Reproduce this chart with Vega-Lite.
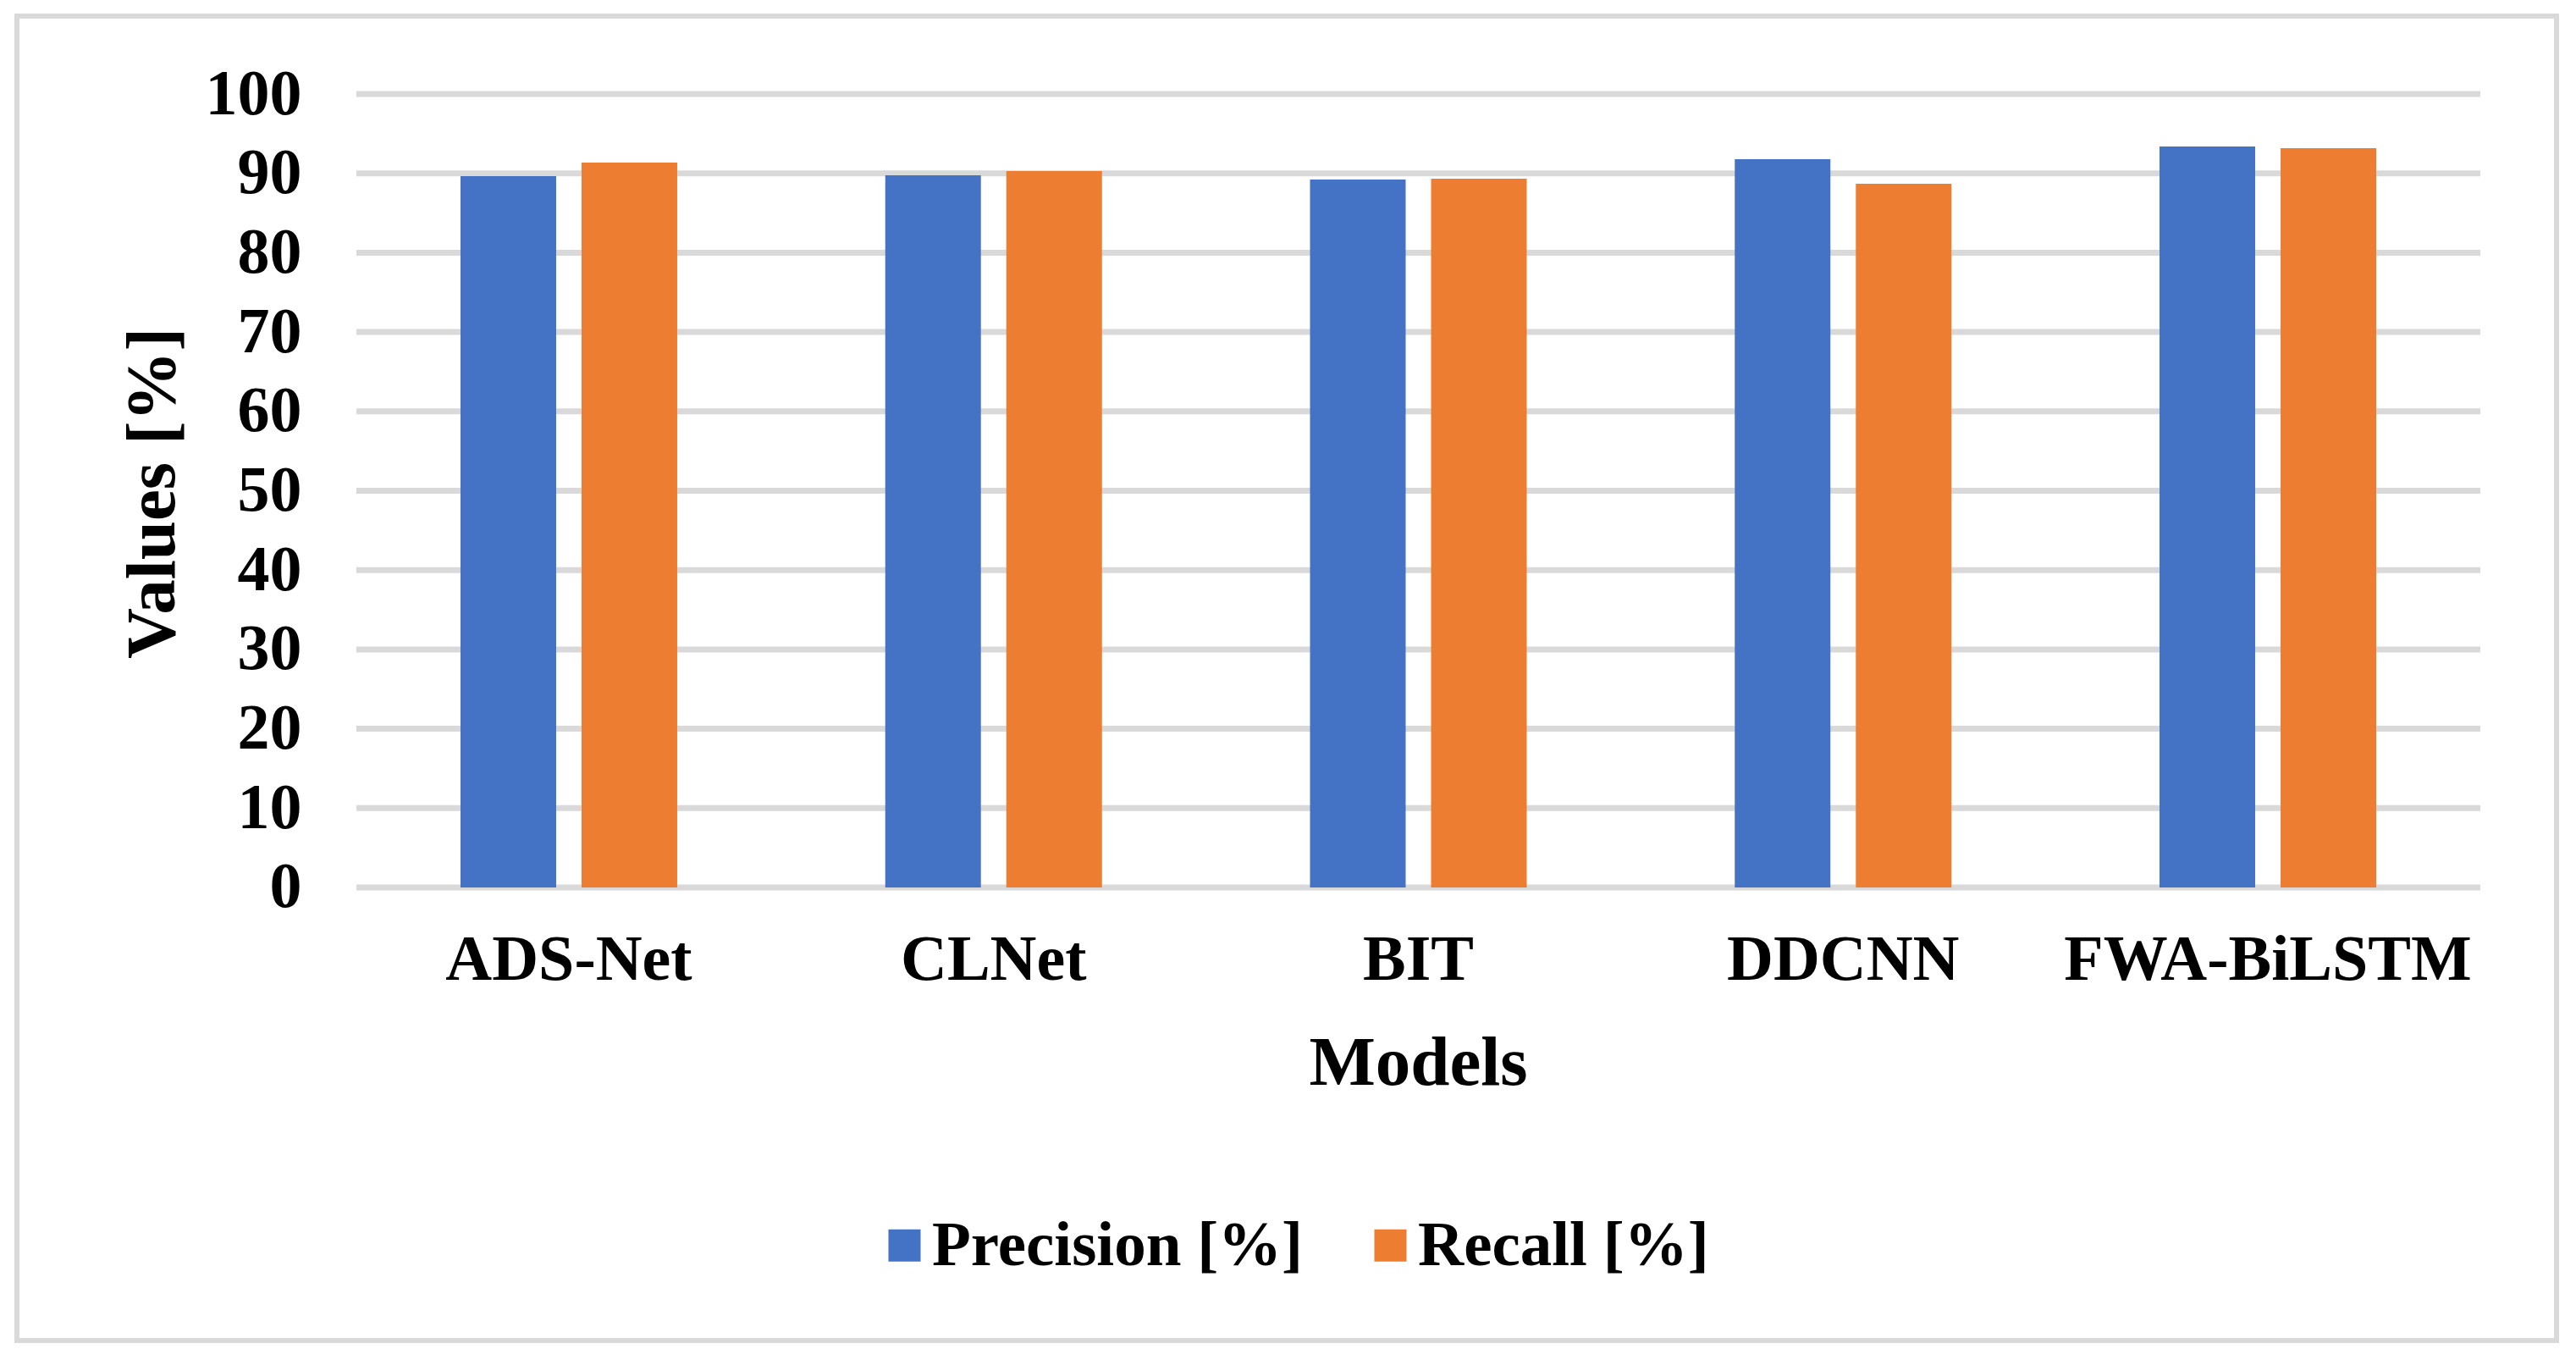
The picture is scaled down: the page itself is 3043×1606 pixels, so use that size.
{
  "$schema": "https://vega.github.io/schema/vega-lite/v6.json",
  "width": 3000,
  "height": 1564,
  "autosize": {"type": "none"},
  "padding": {"left": 20, "top": 19, "right": 23, "bottom": 23},
  "background": "white",
  "config": {
    "view": {"stroke": "#d9d9d9", "strokeWidth": 6},
    "font": "Liberation Serif",
    "axisY": {
      "offset": -401,
      "domain": false,
      "ticks": false,
      "tickSize": 0,
      "grid": false,
      "labelFont": "Liberation Serif",
      "labelFontWeight": "bold",
      "labelFontSize": 76,
      "labelColor": "black",
      "labelPadding": 65,
      "titleFont": "Liberation Serif",
      "titleFontWeight": "bold",
      "titleFontSize": 83,
      "titleColor": "black",
      "titleAngle": -90,
      "titleBaseline": "alphabetic",
      "titleAlign": "center",
      "titleX": -216,
      "titleY": 563
    }
  },
  "datasets": {
    "bars": [
      {"Model": "ADS-Net", "Metric": "Precision [%]", "Value": 89.65},
      {"Model": "ADS-Net", "Metric": "Recall [%]", "Value": 91.35},
      {"Model": "CLNet", "Metric": "Precision [%]", "Value": 89.75},
      {"Model": "CLNet", "Metric": "Recall [%]", "Value": 90.3},
      {"Model": "BIT", "Metric": "Precision [%]", "Value": 89.22},
      {"Model": "BIT", "Metric": "Recall [%]", "Value": 89.33},
      {"Model": "DDCNN", "Metric": "Precision [%]", "Value": 91.78},
      {"Model": "DDCNN", "Metric": "Recall [%]", "Value": 88.69},
      {"Model": "FWA-BiLSTM", "Metric": "Precision [%]", "Value": 93.38},
      {"Model": "FWA-BiLSTM", "Metric": "Recall [%]", "Value": 93.17}
    ],
    "grid": [
      {"g": 0}, {"g": 10}, {"g": 20}, {"g": 30}, {"g": 40}, {"g": 50},
      {"g": 60}, {"g": 70}, {"g": 80}, {"g": 90}, {"g": 100}
    ]
  },
  "layer": [
    {
      "data": {"name": "grid"},
      "mark": {"type": "rule", "color": "#d9d9d9", "strokeWidth": 7},
      "encoding": {
        "y": {
          "field": "g",
          "type": "quantitative",
          "scale": {"domain": [-57.1, 109.82], "nice": false, "zero": false},
          "axis": {"title": "Values [%]", "values": [0, 10, 20, 30, 40, 50, 60, 70, 80, 90, 100]}
        },
        "x": {"datum": 0, "type": "quantitative", "scale": {"domain": [-0.7991, 5.1794], "nice": false, "zero": false}, "axis": null},
        "x2": {"datum": 5}
      }
    },
    {
      "data": {"name": "bars"},
      "mark": {"type": "bar"},
      "encoding": {
        "x": {
          "field": "Model",
          "type": "nominal",
          "sort": ["ADS-Net", "CLNet", "BIT", "DDCNN", "FWA-BiLSTM"],
          "scale": {"paddingInner": 0.4898, "paddingOuter": 0.7344, "align": 0.711},
          "axis": {
            "title": "Models",
            "offset": -535,
            "domain": false,
            "ticks": false,
            "tickSize": 0,
            "grid": false,
            "labelAngle": 0,
            "labelFont": "Liberation Serif",
            "labelFontWeight": "bold",
            "labelFontSize": 76,
            "labelColor": "black",
            "labelBaseline": "alphabetic",
            "labelPadding": 108,
            "labelLimit": 0,
            "titleFont": "Liberation Serif",
            "titleFontWeight": "bold",
            "titleFontSize": 83,
            "titleColor": "black",
            "titleBaseline": "alphabetic",
            "titleX": 1655,
            "titleY": 232
          }
        },
        "xOffset": {
          "field": "Metric",
          "type": "nominal",
          "scale": {"paddingInner": 0.21, "paddingOuter": 0}
        },
        "y": {
          "field": "Value",
          "type": "quantitative",
          "scale": {"domain": [-57.1, 109.82], "nice": false, "zero": false},
          "axis": {"title": "Values [%]", "values": [0, 10, 20, 30, 40, 50, 60, 70, 80, 90, 100]}
        },
        "y2": {"datum": 0},
        "color": {
          "field": "Metric",
          "type": "nominal",
          "scale": {"domain": ["Precision [%]", "Recall [%]"], "range": ["#4472C4", "#ED7D31"]},
          "legend": {
            "title": null,
            "orient": "none",
            "direction": "horizontal",
            "legendX": 1011,
            "legendY": 1414,
            "padding": 0,
            "symbolType": "square",
            "symbolSize": 1444,
            "symbolStrokeWidth": 0,
            "symbolOpacity": 1,
            "labelFont": "Liberation Serif",
            "labelFontWeight": "bold",
            "labelFontSize": 75,
            "labelColor": "black",
            "labelOffset": -5,
            "labelLimit": 0,
            "columnPadding": 65
          }
        }
      }
    }
  ],
  "resolve": {"scale": {"x": "independent"}, "axis": {"x": "independent"}}
}
